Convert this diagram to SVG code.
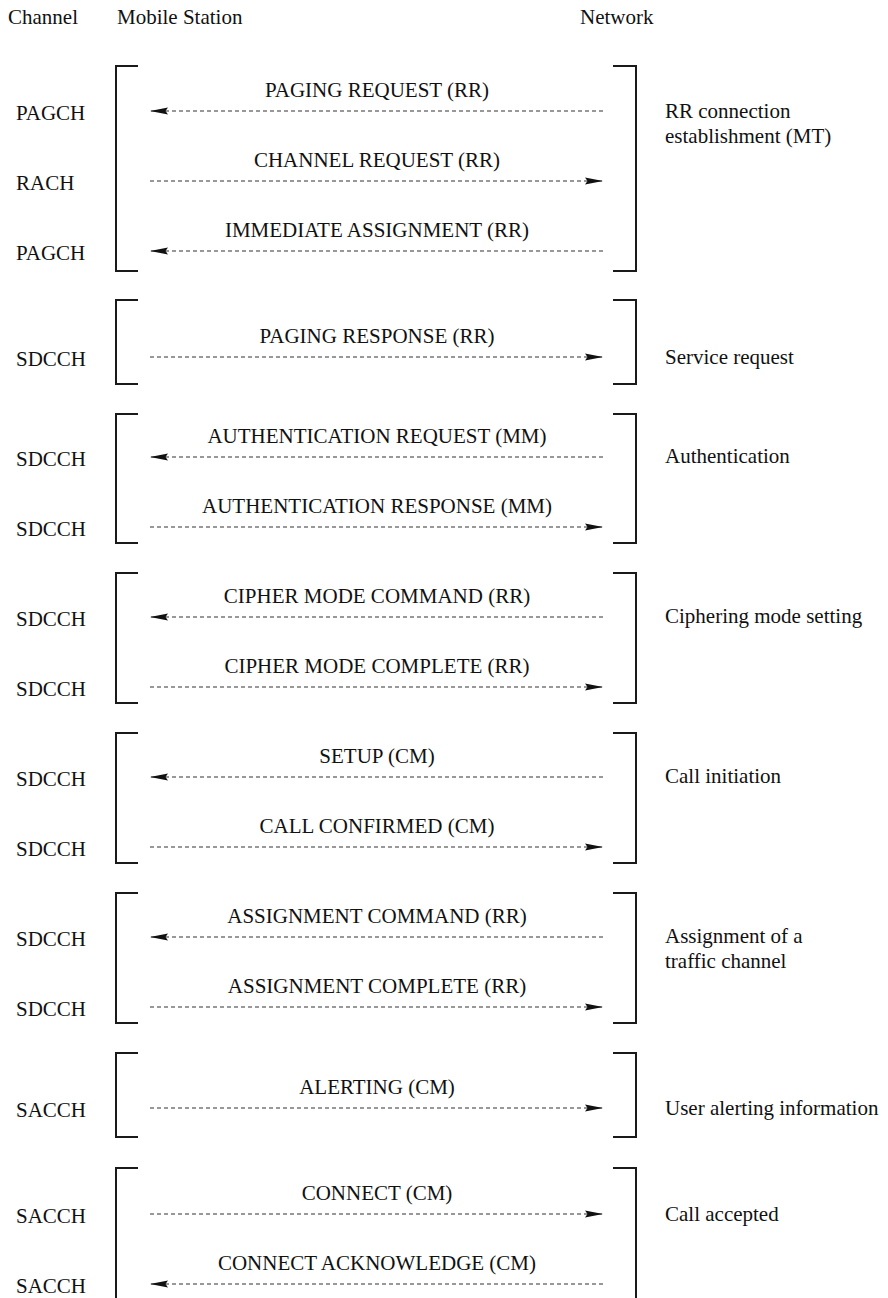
<svg xmlns="http://www.w3.org/2000/svg" width="888" height="1298" viewBox="0 0 888 1298" font-family="'Liberation Serif', 'Times New Roman', Times, serif">
  <style>
    text { font-family: 'Liberation Serif', 'Times New Roman', Times, serif; font-size: 21px; fill: #111; }
    .msg { text-anchor: middle; }
    .bracket { fill: none; stroke: #1a1a1a; stroke-width: 2; }
    .arrow { fill: none; stroke: #333; stroke-width: 1.1; stroke-dasharray: 4 3; marker-end: url(#head); }
  </style>
  <defs>
    <marker id="head" markerUnits="userSpaceOnUse" markerWidth="20" markerHeight="9" refX="18" refY="4" orient="auto">
      <path d="M0,0.5 L18,4 L0,7.5 L2.5,4 z" fill="#111" stroke="none"/>
    </marker>
  </defs>

  <!-- column headings -->
  <g id="headings">
    <text x="8" y="24">Channel</text>
    <text x="117" y="24">Mobile Station</text>
    <text x="580" y="24">Network</text>
  </g>

  <!-- phase 1: RR connection establishment -->
  <g id="rr-establishment">
    <path class="bracket" d="M138,66 H116 V271 H138"/>
    <path class="bracket" d="M613,66 H636 V271 H613"/>
    <text x="16" y="120">PAGCH</text>
    <text x="16" y="190">RACH</text>
    <text x="16" y="260">PAGCH</text>
    <text class="msg" x="377" y="97">PAGING REQUEST (RR)</text>
    <text class="msg" x="377" y="167">CHANNEL REQUEST (RR)</text>
    <text class="msg" x="377" y="237">IMMEDIATE ASSIGNMENT (RR)</text>
    <text x="665" y="118">RR connection</text>
    <text x="665" y="143">establishment (MT)</text>
  </g>

  <!-- phase 2: service request -->
  <g id="service-request">
    <path class="bracket" d="M138,300 H116 V384 H138"/>
    <path class="bracket" d="M613,300 H636 V384 H613"/>
    <text x="16" y="366">SDCCH</text>
    <text class="msg" x="377" y="343">PAGING RESPONSE (RR)</text>
    <text x="665" y="364">Service request</text>
  </g>

  <!-- phase 3: authentication -->
  <g id="authentication">
    <path class="bracket" d="M138,414 H116 V543 H138"/>
    <path class="bracket" d="M613,414 H636 V543 H613"/>
    <text x="16" y="466">SDCCH</text>
    <text x="16" y="536">SDCCH</text>
    <text class="msg" x="377" y="443">AUTHENTICATION REQUEST (MM)</text>
    <text class="msg" x="377" y="513">AUTHENTICATION RESPONSE (MM)</text>
    <text x="665" y="463">Authentication</text>
  </g>

  <!-- phase 4: ciphering mode setting -->
  <g id="ciphering">
    <path class="bracket" d="M138,573 H116 V703 H138"/>
    <path class="bracket" d="M613,573 H636 V703 H613"/>
    <text x="16" y="626">SDCCH</text>
    <text x="16" y="696">SDCCH</text>
    <text class="msg" x="377" y="603">CIPHER MODE COMMAND (RR)</text>
    <text class="msg" x="377" y="673">CIPHER MODE COMPLETE (RR)</text>
    <text x="665" y="623">Ciphering mode setting</text>
  </g>

  <!-- phase 5: call initiation -->
  <g id="call-initiation">
    <path class="bracket" d="M138,733 H116 V863 H138"/>
    <path class="bracket" d="M613,733 H636 V863 H613"/>
    <text x="16" y="786">SDCCH</text>
    <text x="16" y="856">SDCCH</text>
    <text class="msg" x="377" y="763">SETUP (CM)</text>
    <text class="msg" x="377" y="833">CALL CONFIRMED (CM)</text>
    <text x="665" y="783">Call initiation</text>
  </g>

  <!-- phase 6: traffic channel assignment -->
  <g id="assignment">
    <path class="bracket" d="M138,893 H116 V1023 H138"/>
    <path class="bracket" d="M613,893 H636 V1023 H613"/>
    <text x="16" y="946">SDCCH</text>
    <text x="16" y="1016">SDCCH</text>
    <text class="msg" x="377" y="923">ASSIGNMENT COMMAND (RR)</text>
    <text class="msg" x="377" y="993">ASSIGNMENT COMPLETE (RR)</text>
    <text x="665" y="943">Assignment of a</text>
    <text x="665" y="968">traffic channel</text>
  </g>

  <!-- phase 7: user alerting -->
  <g id="alerting">
    <path class="bracket" d="M138,1053 H116 V1137 H138"/>
    <path class="bracket" d="M613,1053 H636 V1137 H613"/>
    <text x="16" y="1117">SACCH</text>
    <text class="msg" x="377" y="1094">ALERTING (CM)</text>
    <text x="665" y="1115">User alerting information</text>
  </g>

  <!-- phase 8: call accepted -->
  <g id="call-accepted">
    <path class="bracket" d="M138,1168 H116 V1300"/>
    <path class="bracket" d="M613,1168 H636 V1300"/>
    <text x="16" y="1223">SACCH</text>
    <text x="16" y="1293">SACCH</text>
    <text class="msg" x="377" y="1200">CONNECT (CM)</text>
    <text class="msg" x="377" y="1270">CONNECT ACKNOWLEDGE (CM)</text>
    <text x="665" y="1221">Call accepted</text>
  </g>

  <!-- message arrows -->
  <g id="connectors">
    <line class="arrow" x1="603" y1="111" x2="150" y2="111"/>
    <line class="arrow" x1="150" y1="181" x2="603" y2="181"/>
    <line class="arrow" x1="603" y1="251" x2="150" y2="251"/>
    <line class="arrow" x1="150" y1="357" x2="603" y2="357"/>
    <line class="arrow" x1="603" y1="457" x2="150" y2="457"/>
    <line class="arrow" x1="150" y1="527" x2="603" y2="527"/>
    <line class="arrow" x1="603" y1="617" x2="150" y2="617"/>
    <line class="arrow" x1="150" y1="687" x2="603" y2="687"/>
    <line class="arrow" x1="603" y1="777" x2="150" y2="777"/>
    <line class="arrow" x1="150" y1="847" x2="603" y2="847"/>
    <line class="arrow" x1="603" y1="937" x2="150" y2="937"/>
    <line class="arrow" x1="150" y1="1007" x2="603" y2="1007"/>
    <line class="arrow" x1="150" y1="1108" x2="603" y2="1108"/>
    <line class="arrow" x1="150" y1="1214" x2="603" y2="1214"/>
    <line class="arrow" x1="603" y1="1284" x2="150" y2="1284"/>
  </g>
</svg>
